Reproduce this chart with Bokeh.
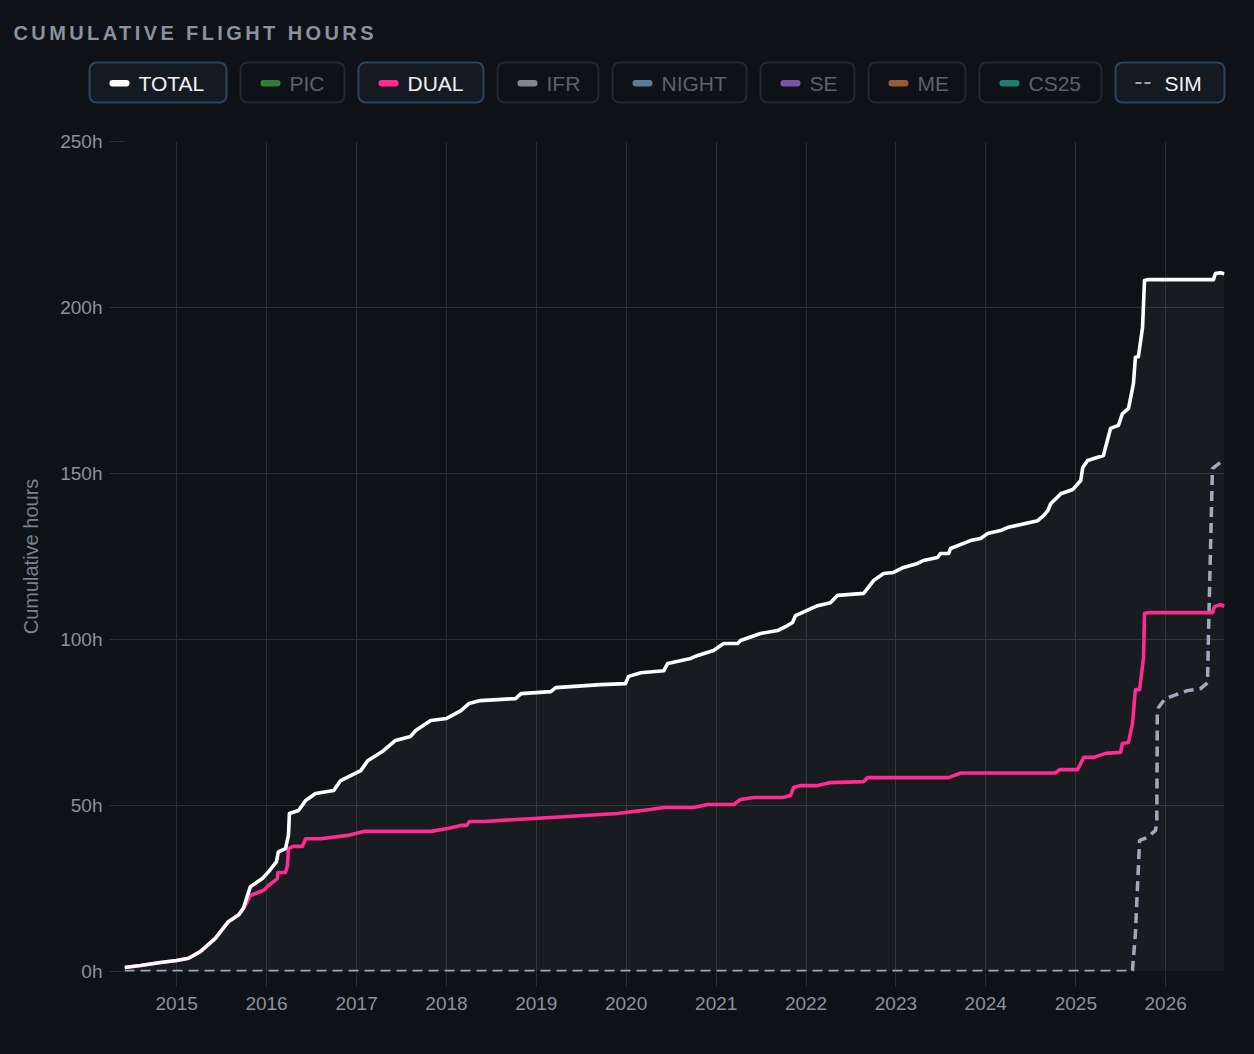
import pandas as pd
from bokeh.embed import file_html
from bokeh.resources import INLINE
from bokeh.plotting import figure
from bokeh.models import (Range1d, FixedTicker, PrintfTickFormatter, DatetimeTickFormatter,
                          BoxAnnotation, Label, InlineStyleSheet, GlobalInlineStyleSheet)

# ---------------- data ----------------
total_dates = ["2014-06-03", "2014-08-07", "2014-10-27", "2015-01-01", "2015-02-18", "2015-04-07",
               "2015-06-07", "2015-07-30", "2015-09-09", "2015-09-29", "2015-10-27", "2015-12-15",
               "2016-01-09", "2016-02-10", "2016-02-18", "2016-03-18", "2016-03-30", "2016-04-03",
               "2016-05-10", "2016-06-08", "2016-07-18", "2016-09-30", "2016-10-28", "2016-12-08",
               "2017-01-18", "2017-02-15", "2017-04-20", "2017-06-08", "2017-08-08", "2017-08-29",
               "2017-10-29", "2018-01-01", "2018-03-01", "2018-04-02", "2018-05-19", "2018-10-09",
               "2018-10-31", "2019-03-01", "2019-03-21", "2019-09-19", "2019-12-29", "2020-01-11",
               "2020-03-01", "2020-06-02", "2020-06-18", "2020-09-19", "2020-10-18", "2020-12-21",
               "2021-01-31", "2021-03-29", "2021-04-10", "2021-06-30", "2021-09-07", "2021-10-18",
               "2021-11-07", "2021-11-19", "2022-02-17", "2022-04-10", "2022-05-09", "2022-08-23",
               "2022-10-03", "2022-11-12", "2022-12-22", "2023-02-01", "2023-03-30", "2023-04-23",
               "2023-06-19", "2023-07-01", "2023-08-03", "2023-08-11", "2023-10-31", "2023-12-11",
               "2024-01-08", "2024-03-01", "2024-03-29", "2024-07-30", "2024-08-23", "2024-09-09",
               "2024-09-21", "2024-11-01", "2024-12-20", "2025-01-21", "2025-01-29", "2025-02-18",
               "2025-04-23", "2025-05-22", "2025-06-23", "2025-07-09", "2025-08-03", "2025-08-23",
               "2025-08-31", "2025-09-12", "2025-09-29", "2025-10-07", "2025-10-23", "2026-07-14",
               "2026-07-22", "2026-08-11", "2026-08-28"]
total_hours = [1.2, 1.8, 2.7, 3.3, 4.0, 6.0,
               10.0, 15.0, 17.0, 19.0, 25.5, 28.0,
               30.0, 33.0, 36.0, 37.0, 41.0, 47.6,
               48.5, 51.5, 53.6, 54.5, 57.5, 59.0,
               60.5, 63.5, 66.5, 69.6, 70.8, 72.6,
               75.6, 76.2, 78.6, 80.7, 81.6, 82.2,
               83.7, 84.3, 85.5, 86.4, 86.7, 88.9,
               90.0, 90.6, 92.8, 94.3, 95.2, 96.7,
               98.8, 98.8, 99.7, 101.8, 102.7, 104.2,
               105.1, 107.2, 110.2, 111.1, 113.3, 113.9,
               117.8, 119.9, 120.2, 121.7, 122.9, 123.8,
               124.7, 125.9, 125.9, 127.4, 129.8, 130.4,
               131.9, 132.8, 133.7, 135.8, 137.3, 138.8,
               140.9, 143.9, 145.2, 147.9, 151.8, 153.9,
               155.4, 163.6, 164.5, 168.0, 169.6, 177.1,
               185.0, 185.2, 194.0, 208.1, 208.4, 208.4,
               210.2, 210.5, 210.2]

dual_dates = ["2014-06-03", "2014-08-07", "2014-10-27", "2015-01-01", "2015-02-18", "2015-04-07",
              "2015-06-07", "2015-07-30", "2015-09-09", "2015-10-07", "2015-10-27", "2015-12-19",
              "2016-01-09", "2016-02-14", "2016-02-16", "2016-03-18", "2016-03-26", "2016-03-30",
              "2016-04-19", "2016-05-26", "2016-06-08", "2016-08-08", "2016-11-25", "2017-01-30",
              "2017-10-29", "2018-01-06", "2018-03-01", "2018-03-24", "2018-04-05", "2018-06-01",
              "2019-03-01", "2019-11-26", "2020-04-08", "2020-06-02", "2020-10-01", "2020-11-27",
              "2021-03-13", "2021-04-10", "2021-06-02", "2021-09-28", "2021-10-30", "2021-11-11",
              "2021-12-10", "2022-02-17", "2022-04-10", "2022-08-23", "2022-09-08", "2023-08-03",
              "2023-09-21", "2024-10-11", "2024-10-27", "2025-01-08", "2025-02-02", "2025-03-14",
              "2025-05-02", "2025-07-02", "2025-07-09", "2025-08-03", "2025-08-19", "2025-08-31",
              "2025-09-17", "2025-10-03", "2025-10-07", "2025-10-23", "2026-07-10", "2026-07-18",
              "2026-08-11", "2026-08-28"]
dual_hours = [1.2, 1.8, 2.7, 3.3, 4.0, 6.0,
              10.0, 15.0, 17.0, 19.9, 22.9, 24.4,
              25.9, 28.0, 29.8, 29.8, 31.9, 37.0,
              37.7, 37.7, 40.0, 40.0, 41.0, 42.2,
              42.2, 43.1, 44.0, 44.0, 45.2, 45.2,
              46.4, 47.6, 48.8, 49.4, 49.4, 50.3,
              50.3, 51.8, 52.4, 52.4, 53.0, 55.4,
              56.0, 56.0, 56.9, 57.2, 58.4, 58.4,
              59.8, 59.8, 60.8, 60.8, 64.5, 64.5,
              65.7, 66.0, 68.7, 69.0, 74.7, 84.9,
              84.9, 94.6, 107.8, 108.1, 108.1, 109.9,
              110.5, 110.0]

sim_dates = ["2014-06-03", "2025-08-16", "2025-08-19", "2025-08-31", "2025-09-17", "2025-10-19",
             "2025-11-21", "2025-11-26", "2025-11-28", "2025-12-03", "2025-12-30", "2026-03-31",
             "2026-05-23", "2026-06-20", "2026-06-24", "2026-07-10", "2026-08-11", "2026-08-28"]
sim_hours = [0.0, 0.0, 0.3, 11.4, 39.5, 40.4,
             42.5, 45.5, 77.7, 79.5, 82.2, 84.6,
             85.2, 87.0, 101.8, 151.5, 153.3, 153.9]

legend_labels = ["TOTAL", "PIC", "DUAL", "IFR", "NIGHT", "SE", "ME", "CS25", "SIM"]
legend_active = [True, False, True, False, False, False, False, False, True]
legend_colors = ["#ffffff", "#2e7d32", "#ff2b8f", "#808589", "#5a7d99",
                 "#7a52a8", "#9c5a30", "#1f7f6e", "#9ba5b7"]

year_ticks = list(range(2015, 2027))
hour_ticks = [0, 50, 100, 150, 200, 250]

# ---------------- styling ----------------
BG = "#0e1116"
GRID = "#2b2e34"
TICK_TEXT = "#8b929b"
W = 1254

total_x = pd.to_datetime(total_dates)
dual_x = pd.to_datetime(dual_dates)
sim_x = pd.to_datetime(sim_dates)


def header_fig(height, top):
    # frame covers the whole canvas, so data units == page pixels
    f = figure(width=W, height=height, x_range=Range1d(0, W), y_range=Range1d(top + height, top),
               toolbar_location=None, output_backend="svg", title=None,
               x_axis_location=None, y_axis_location=None, min_border=0)
    f.grid.visible = False
    f.outline_line_color = None
    f.background_fill_color = BG
    f.border_fill_color = BG
    return f


# title row
head = header_fig(50, 0)
head.add_layout(Label(x=13, y=32, text="CUMULATIVE FLIGHT HOURS", text_font="Liberation Sans",
                      text_font_style="bold", text_font_size="20px", text_color="#8b929c",
                      text_baseline="middle"))
head.stylesheets = [InlineStyleSheet(css=":host { letter-spacing: 3.4px; }"),
                    GlobalInlineStyleSheet(css="body { background-color: #0e1116; display: flex; "
                                               "flex-direction: column; }")]

# legend row (dataset toggles)
leg = header_fig(62, 50)
box_widths = [137, 104, 125, 101, 134, 94, 97, 122, 109]
bx = 89
for lab, act, col, bw in zip(legend_labels, legend_active, legend_colors, box_widths):
    leg.add_layout(BoxAnnotation(left=bx, right=bx + bw, top=62, bottom=102,
                                 fill_color="#151a22" if act else BG, fill_alpha=1,
                                 line_color="#2b4563" if act else "#24272c", line_alpha=1,
                                 line_width=2, border_radius=7))
    if lab == "SIM":
        for dx in (20, 29):
            leg.add_layout(BoxAnnotation(left=bx + dx, right=bx + dx + 6, top=81.5, bottom=83.5,
                                         fill_color=col, fill_alpha=1, line_color=None))
    else:
        leg.add_layout(BoxAnnotation(left=bx + 20, right=bx + 40, top=79.5, bottom=86,
                                     fill_color=col, fill_alpha=1, line_color=None,
                                     border_radius=3))
    leg.add_layout(Label(x=bx + 49, y=83, text=lab, text_font="Liberation Sans",
                         text_font_size="21px", text_baseline="middle",
                         text_color="#f2f3f5" if act else "#5c626b"))
    bx += bw + 14

# main chart
p = figure(width=W, height=940, x_axis_type="datetime",
           x_range=Range1d(total_x[0], total_x[-1]), y_range=Range1d(0, 250),
           toolbar_location=None, output_backend="svg", title=None,
           min_border_left=124, min_border_right=30, min_border_top=29, min_border_bottom=81)
p.background_fill_color = BG
p.border_fill_color = BG
p.outline_line_color = None

p.varea(x=total_x, y1=0, y2=total_hours, fill_color="white", fill_alpha=0.045)
p.line(sim_x, sim_hours, line_color="#a0aabb", line_width=3.5, line_dash="10 6")
p.line(dual_x, dual_hours, line_color="#ff2b8f", line_width=3.6, line_join="round")
p.line(total_x, total_hours, line_color="white", line_width=3.6, line_join="round")

p.xaxis.ticker = FixedTicker(ticks=[pd.Timestamp(f"{y}-01-01").value // 10**6 for y in year_ticks])
p.xaxis.formatter = DatetimeTickFormatter(years="%Y", months="%Y", days="%Y")
p.yaxis.ticker = FixedTicker(ticks=hour_ticks)
p.yaxis.formatter = PrintfTickFormatter(format="%dh")
p.yaxis.axis_label = "Cumulative hours"

for ax in (p.xaxis, p.yaxis):
    ax.axis_line_color = None
    ax.major_tick_out = 15
    ax.major_tick_in = 0
    ax.major_tick_line_color = GRID
    ax.minor_tick_line_color = None
    ax.major_label_text_color = TICK_TEXT
    ax.major_label_text_font = "Liberation Sans"
    ax.major_label_text_font_size = "19px"
p.xaxis.major_label_standoff = 10
p.yaxis.major_label_standoff = 7
p.yaxis.axis_label_text_font = "Liberation Sans"
p.yaxis.axis_label_text_font_size = "20px"
p.yaxis.axis_label_text_font_style = "normal"
p.yaxis.axis_label_text_color = "#7a818b"
p.yaxis.axis_label_standoff = 15

p.grid.grid_line_color = GRID
p.grid.grid_line_width = 1

# three separate roots, stacked by the page, so the header rows keep full-width frames
roots = [head, leg, p]

open("out.html", "w").write(file_html(roots, INLINE))
